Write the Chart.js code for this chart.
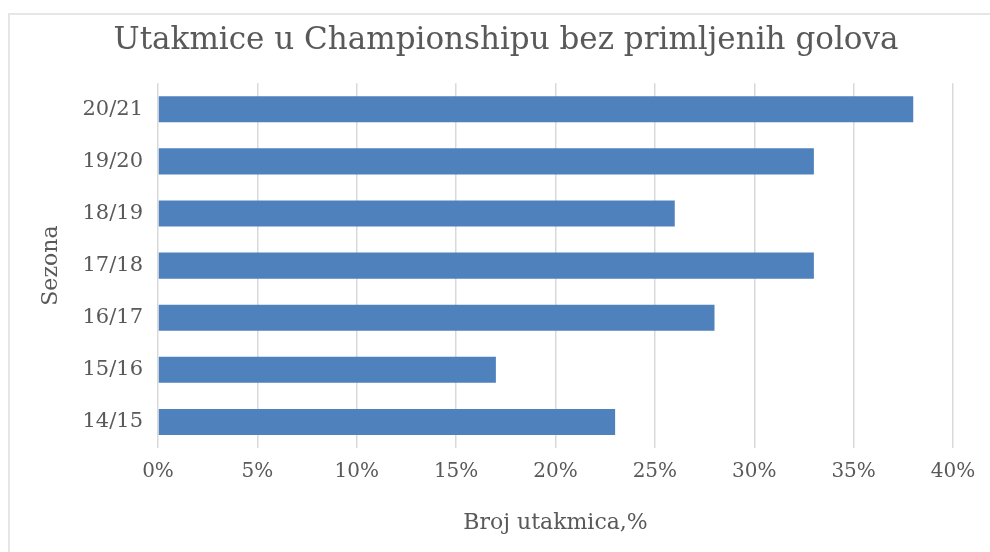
<!DOCTYPE html>
<html>
<head>
<meta charset="utf-8">
<script src="https://cdn.jsdelivr.net/npm/chart.js@4"></script>
<style>
  html, body { margin: 0; padding: 0; background: #fff; }
  #wrap { position: relative; width: 990px; height: 552px; }
  #frame { position: absolute; left: 8px; top: 13px; right: 0; bottom: 0;
           border-top: 2px solid #e6e6e6; border-left: 2px solid #e6e6e6; pointer-events: none; }
  canvas { position: absolute; left: 0; top: 0; }
</style>
</head>
<body>
<div id="wrap">
  <canvas id="c" width="990" height="552"></canvas>
  <div id="frame"></div>
</div>
<script>
const categories = ['20/21', '19/20', '18/19', '17/18', '16/17', '15/16', '14/15'];
const values = [38, 33, 26, 33, 28, 17, 23];
const xTicks = [0, 5, 10, 15, 20, 25, 30, 35, 40];
const titleText = 'Utakmice u Championshipu bez primljenih golova';
const xTitle = 'Broj utakmica,%';
const yTitle = 'Sezona';

const serif = "'DejaVu Serif', serif";
const grey = '#595959';

new Chart(document.getElementById('c'), {
  type: 'bar',
  data: {
    labels: categories,
    datasets: [{
      data: values,
      backgroundColor: '#4F81BD',
      borderWidth: 0,
      barPercentage: 0.5,
      categoryPercentage: 1.0
    }]
  },
  options: {
    indexAxis: 'y',
    responsive: false,
    animation: false,
    layout: { padding: { left: 22, right: 0, top: 0, bottom: 0 } },
    plugins: {
      legend: { display: false },
      tooltip: { enabled: false },
      title: {
        display: true,
        text: titleText,
        color: grey,
        font: { family: serif, size: 31, weight: 'normal' },
        padding: { top: 22, bottom: 24 }
      }
    },
    scales: {
      x: {
        min: 0, max: 40,
        afterBuildTicks: (s) => { s.ticks = xTicks.map(v => ({ value: v })); },
        afterFit: (s) => { s.height = 104; },
        grid: { color: '#d9d9d9', lineWidth: 1.5, drawTicks: false },
        border: { display: false },
        ticks: {
          color: grey, padding: 12,
          font: { family: serif, size: 20 },
          callback: (v) => v + '%'
        },
        title: {
          display: true, text: xTitle, color: grey,
          font: { family: serif, size: 22 },
          padding: { top: 0, bottom: 16 }
        }
      },
      y: {
        afterFit: (s) => { s.width = 136; },
        grid: { display: false, drawTicks: false },
        border: { display: false },
        ticks: {
          color: grey, padding: 15,
          font: { family: serif, size: 21 }
        },
        title: {
          display: true, text: yTitle, color: grey,
          font: { family: serif, size: 22 },
          padding: { top: 16, bottom: 0 }
        }
      },
      yR: {
        position: 'right',
        axis: 'y',
        type: 'category',
        afterFit: (s) => { s.width = 37; },
        grid: { display: false, drawTicks: false },
        border: { display: false },
        ticks: { display: false },
        title: { display: false }
      }
    }
  }
});
</script>
</body>
</html>
